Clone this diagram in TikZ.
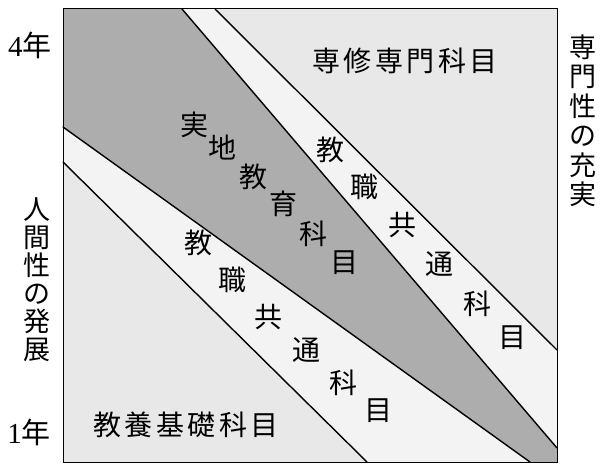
\documentclass[tikz,border=0pt]{standalone}
\usepackage{fontspec}
\newfontfamily\jp{Noto Sans CJK JP}
\newfontfamily\jpsp[LetterSpace=12]{Noto Sans CJK JP}
\setmainfont{Liberation Serif}
\definecolor{darkband}{HTML}{ADADAD}
\definecolor{bgfill}{HTML}{E8E8E8}
\definecolor{bandfill}{HTML}{F3F3F3}
\begin{document}
\begin{tikzpicture}[x=1pt,y=-1pt,
  jpch/.style={inner sep=0pt,font=\jp\fontsize{28}{28}\selectfont},
  jph/.style={inner sep=0pt,font=\jpsp\fontsize{28}{28}\selectfont},
  jpv/.style={inner sep=0pt,align=center,font=\jp\fontsize{27}{28}\selectfont},
  yearlbl/.style={inner sep=0pt,font=\fontsize{29}{30}\selectfont},
  divline/.style={line width=1.4pt,line cap=round}]
\useasboundingbox (0,0) rectangle (602,465);
% corners and line ends
\coordinate (tl) at (63,9);
\coordinate (tr) at (557,9);
\coordinate (br) at (557,462);
\coordinate (bl) at (63,462);
\coordinate (a1) at (182,9);   \coordinate (a2) at (557,448);
\coordinate (b1) at (215,9);   \coordinate (b2) at (557,350);
\coordinate (c1) at (63,127);  \coordinate (c2) at (530,462);
\coordinate (d1) at (63,162);  \coordinate (d2) at (367,462);
% fills
\fill[bgfill] (tl) rectangle (br);
\fill[darkband] (tl) -- (a1) -- (a2) -- (br) -- (c2) -- (c1) -- cycle;
\fill[bandfill] (a1) -- (b1) -- (b2) -- (a2) -- cycle;
\fill[bandfill] (c1) -- (c2) -- (d2) -- (d1) -- cycle;
% lines
\draw[divline] (a1) -- (a2);
\draw[divline] (b1) -- (b2);
\draw[divline] (c1) -- (c2);
\draw[divline] (d1) -- (d2);
\draw[line width=1pt] (tl) rectangle (br);
% horizontal labels
\node[jph] (senshu) at (405,61) {専修専門科目};
\node[jph] (kyoyo) at (186,425) {教養基礎科目};
% side labels
\node[yearlbl] (y4) at (30,45) {4{\jp 年}};
\node[yearlbl] (y1) at (29,432) {1{\jp 年}};
\node[jpv] (ningen) at (37,280) {人\\間\\性\\の\\発\\展};
\node[jpv,font=\jp\fontsize{27}{29.5}\selectfont] (senmon) at (583,121) {専\\門\\性\\の\\充\\実};
% diagonal: 実地教育科目
\node[jpch] (j1) at (194,125) {実};
\node[jpch] (j2) at (222,148) {地};
\node[jpch] (j3) at (253,177) {教};
\node[jpch] (j4) at (283,204) {育};
\node[jpch] (j5) at (313,234) {科};
\node[jpch] (j6) at (344,263) {目};
% diagonal upper band: 教職共通科目
\node[jpch] (u1) at (330,150) {教};
\node[jpch] (u2) at (364,187) {職};
\node[jpch] (u3) at (402,225) {共};
\node[jpch] (u4) at (439,264) {通};
\node[jpch] (u5) at (477,304) {科};
\node[jpch] (u6) at (512,338) {目};
% diagonal lower band: 教職共通科目
\node[jpch] (l1) at (198,243) {教};
\node[jpch] (l2) at (232,280) {職};
\node[jpch] (l3) at (268,317) {共};
\node[jpch] (l4) at (306,350) {通};
\node[jpch] (l5) at (343,383) {科};
\node[jpch] (l6) at (378,411) {目};
\end{tikzpicture}
\end{document}
